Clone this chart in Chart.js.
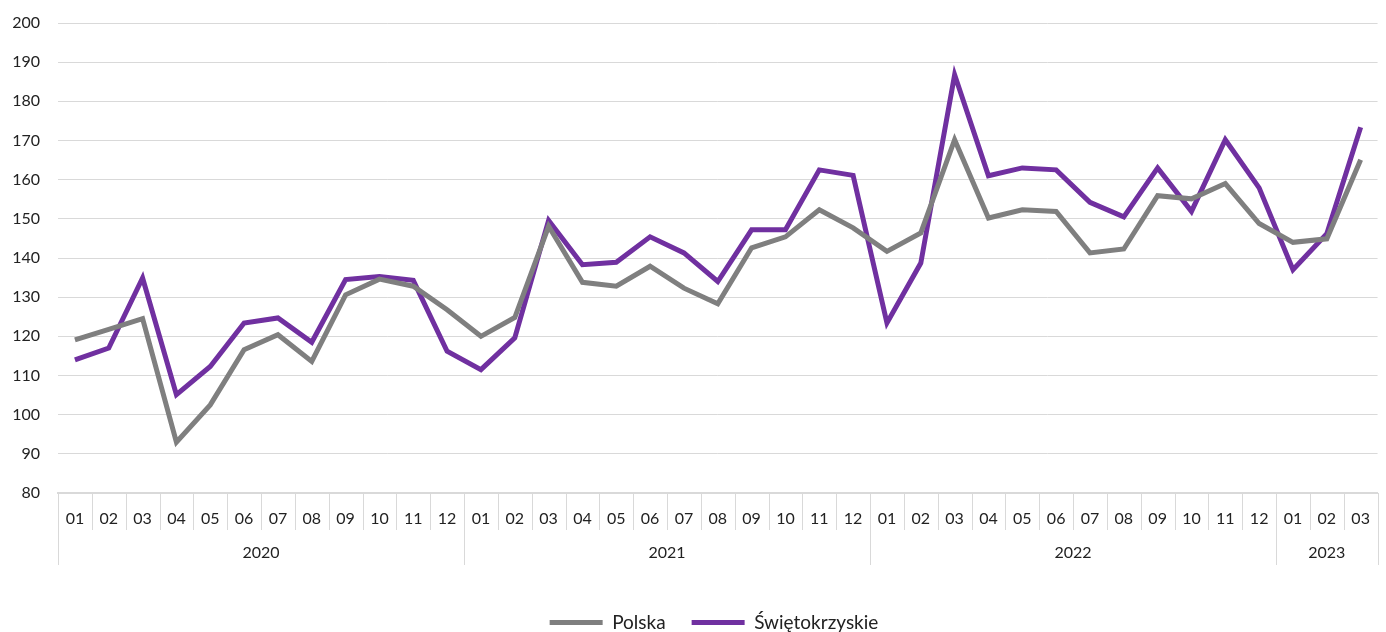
<!DOCTYPE html>
<html>
<head>
<meta charset="utf-8">
<script src="https://cdn.jsdelivr.net/npm/chart.js@4"></script>
<style>
  html, body { margin: 0; padding: 0; background: #fff; }
  #wrap { width: 1386px; height: 632px; }
</style>
</head>
<body>
<div id="wrap"><canvas id="myChart"></canvas></div>
<script>
// dane
const lata = ["2020", "2021", "2022", "2023"];
const miesiaceWRoku = [12, 12, 12, 3];
const miesiace = [
  "01", "02", "03", "04", "05", "06", "07", "08", "09", "10", "11", "12",
  "01", "02", "03", "04", "05", "06", "07", "08", "09", "10", "11", "12",
  "01", "02", "03", "04", "05", "06", "07", "08", "09", "10", "11", "12",
  "01", "02", "03"
];
const polska = [
  119.1, 121.8, 124.5, 93.0, 102.5, 116.6, 120.4, 113.6, 130.6, 134.6, 132.8, 126.8,
  120.0, 124.8, 148.1, 133.8, 132.8, 137.9, 132.3, 128.3, 142.6, 145.4, 152.3, 147.7,
  141.7, 146.4, 170.2, 150.2, 152.3, 151.9, 141.3, 142.3, 155.9, 155.1, 159.0, 148.8,
  144.0, 144.9, 165.1
];
const swietokrzyskie = [
  114.0, 117.0, 134.9, 105.1, 112.3, 123.4, 124.7, 118.5, 134.5, 135.3, 134.3, 116.2,
  111.5, 119.6, 149.6, 138.3, 138.9, 145.4, 141.3, 134.0, 147.2, 147.2, 162.5, 161.1,
  123.4, 138.7, 186.8, 161.0, 163.0, 162.5, 154.2, 150.5, 163.0, 151.9, 170.2, 157.9,
  137.0, 146.2, 173.4
];

const kolorPolska = "#7f7f7f";
const kolorSwiet = "#7030a0";
const czcionka = "Lato, 'Open Sans', sans-serif";
const kolorTekstu = "#222";
const kolorSiatki = "#d9d9d9";

// separatory miesięcy i lat pod osią X
const osLat = {
  id: "osLat",
  afterDraw(chart) {
    const x = chart.scales.x;
    const ctx = chart.ctx;
    const dol = chart.chartArea.bottom;
    ctx.save();
    ctx.strokeStyle = kolorSiatki;
    ctx.lineWidth = 1;
    let granice = [0];
    let suma = 0;
    miesiaceWRoku.forEach((n) => { suma += n; granice.push(suma); });
    for (let i = 0; i <= miesiace.length; i++) {
      const px = Math.round(x.getPixelForValue(i - 0.5)) + 0.5;
      const dlugosc = granice.includes(i) ? 72 : 37;
      ctx.beginPath();
      ctx.moveTo(px, dol);
      ctx.lineTo(px, dol + dlugosc);
      ctx.stroke();
    }
    ctx.fillStyle = kolorTekstu;
    ctx.font = "16px " + czcionka;
    ctx.textAlign = "center";
    ctx.textBaseline = "middle";
    for (let k = 0; k < lata.length; k++) {
      const a = x.getPixelForValue(granice[k] - 0.5);
      const b = x.getPixelForValue(granice[k + 1] - 0.5);
      ctx.fillText(lata[k], (a + b) / 2, dol + 60);
    }
    ctx.restore();
  },
};

// przesunięcie legendy w prawo, jak w oryginale
const przesunLegende = {
  id: "przesunLegende",
  beforeDraw(chart) {
    if (chart.legend && !chart.legend._przesunieta) {
      chart.legend.left += 24;
      chart.legend.right += 24;
      chart.legend._przesunieta = true;
    }
  },
};

const ctx = document.getElementById("myChart");
new Chart(ctx, {
  type: "line",
  data: {
    labels: miesiace,
    datasets: [
      {
        label: "Polska",
        data: polska,
        borderColor: kolorPolska,
        backgroundColor: kolorPolska,
        borderWidth: 5,
        pointRadius: 0,
        tension: 0,
      },
      {
        label: "Świętokrzyskie",
        data: swietokrzyskie,
        borderColor: kolorSwiet,
        backgroundColor: kolorSwiet,
        borderWidth: 5,
        pointRadius: 0,
        tension: 0,
      },
    ],
  },
  options: {
    responsive: true,
    maintainAspectRatio: false,
    animation: false,
    layout: { padding: { top: 23, right: 6, left: 0, bottom: -10 } },
    plugins: {
      tooltip: { enabled: false },
      legend: {
        position: "bottom",
        labels: {
          font: { family: czcionka, size: 19 },
          color: kolorTekstu,
          boxWidth: 53,
          boxHeight: 5,
          padding: 26,
          generateLabels(chart) {
            return chart.data.datasets.map((ds, i) => ({
              text: ds.label,
              fillStyle: ds.borderColor,
              strokeStyle: ds.borderColor,
              lineWidth: 0,
              hidden: false,
              datasetIndex: i,
              fontColor: kolorTekstu,
            }));
          },
        },
      },
    },
    scales: {
      x: {
        offset: true,
        grid: { display: false, drawTicks: false },
        border: { display: true, color: kolorSiatki, width: 2 },
        ticks: {
          autoSkip: false,
          maxRotation: 0,
          padding: 16,
          color: kolorTekstu,
          font: { family: czcionka, size: 16 },
        },
        afterFit(scale) { scale.height = 94; },
      },
      y: {
        min: 80,
        max: 200,
        ticks: {
          stepSize: 10,
          padding: 18,
          color: kolorTekstu,
          font: { family: czcionka, size: 16 },
        },
        grid: { color: kolorSiatki, lineWidth: 1, drawTicks: false },
        border: { display: false },
        afterFit(scale) {
          scale.width = 58;
          scale.paddingTop = 0;
          scale.paddingBottom = 0;
        },
      },
    },
  },
  plugins: [osLat, przesunLegende],
});
</script>
</body>
</html>
